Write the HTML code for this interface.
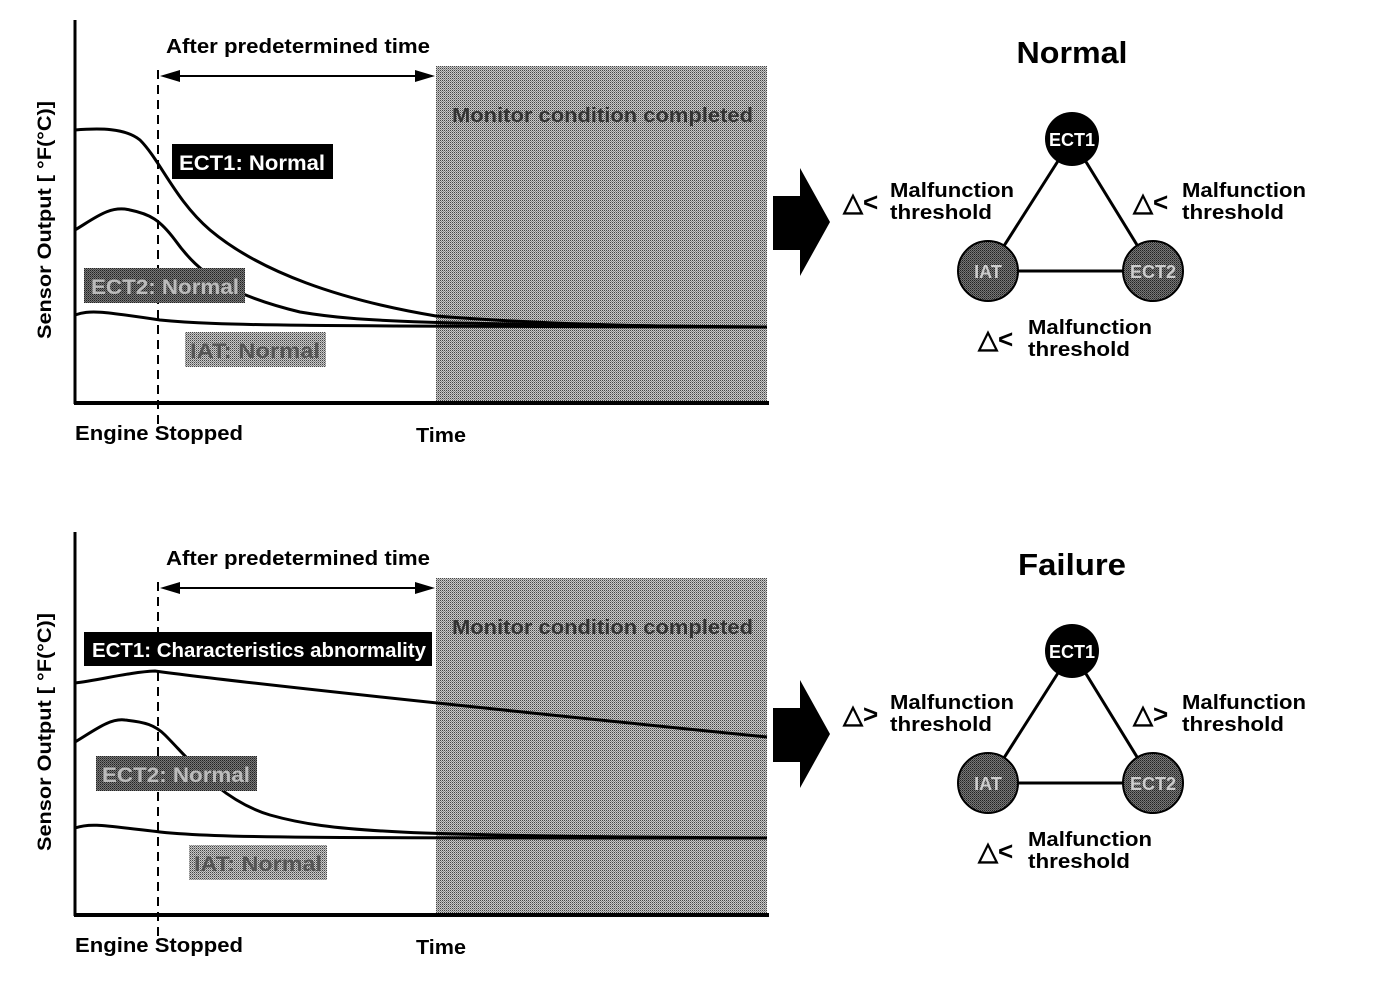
<!DOCTYPE html>
<html><head><meta charset="utf-8"><style>
html,body{margin:0;padding:0;background:#fff;}
svg text{font-family:"Liberation Sans",Arial,sans-serif;font-weight:bold;}
</style></head><body>
<svg width="1392" height="988" viewBox="0 0 1392 988" xmlns="http://www.w3.org/2000/svg">
<defs>
<pattern id="st" width="2" height="2" patternUnits="userSpaceOnUse"><rect width="2" height="2" fill="#c8c8c8"/><rect width="1" height="1" fill="#444"/><rect x="1" y="1" width="1" height="1" fill="#888"/></pattern>
<pattern id="dk" width="2" height="2" patternUnits="userSpaceOnUse"><rect width="2" height="2" fill="#777"/><rect width="1" height="1" fill="#222"/><rect x="1" y="1" width="1" height="1" fill="#444"/></pattern>
<g id="frame">
  <rect x="436" y="66" width="331" height="335" fill="url(#st)"/>
  <text x="452" y="122" font-size="20" fill="#333" textLength="301" lengthAdjust="spacingAndGlyphs">Monitor condition completed</text>
  <line x1="75" y1="20" x2="75" y2="404" stroke="#000" stroke-width="3"/>
  <line x1="74" y1="403" x2="769" y2="403" stroke="#000" stroke-width="4"/>
  <line x1="158" y1="70" x2="158" y2="430" stroke="#000" stroke-width="2" stroke-dasharray="9,6"/>
  <line x1="172" y1="76" x2="424" y2="76" stroke="#000" stroke-width="2"/>
  <polygon points="160,76 180,70 180,82" fill="#000"/>
  <polygon points="435,76 415,70 415,82" fill="#000"/>
  <text x="166" y="53" font-size="20" textLength="264" lengthAdjust="spacingAndGlyphs">After predetermined time</text>
  <text x="75" y="440" font-size="20" textLength="168" lengthAdjust="spacingAndGlyphs">Engine Stopped</text>
  <text x="416" y="442" font-size="20" textLength="50" lengthAdjust="spacingAndGlyphs">Time</text>
  <text transform="translate(51,220) rotate(-90)" font-size="19" text-anchor="middle" textLength="238" lengthAdjust="spacingAndGlyphs">Sensor Output [ °F(°C)]</text>
  <polygon points="773,196 800,196 800,168 830,222 800,276 800,250 773,250" fill="#000"/>
  <line x1="1072" y1="139" x2="988" y2="271" stroke="#000" stroke-width="3"/>
  <line x1="1072" y1="139" x2="1153" y2="271" stroke="#000" stroke-width="3"/>
  <line x1="988" y1="271" x2="1153" y2="271" stroke="#000" stroke-width="3"/>
  <circle cx="1072" cy="139" r="27" fill="#000"/>
  <circle cx="988" cy="271" r="30" fill="url(#dk)" stroke="#000" stroke-width="2"/>
  <circle cx="1153" cy="271" r="30" fill="url(#dk)" stroke="#000" stroke-width="2"/>
  <text x="1072" y="146" font-size="18" fill="#fff" text-anchor="middle">ECT1</text>
  <text x="988" y="278" font-size="18" fill="#ccc" text-anchor="middle">IAT</text>
  <text x="1153" y="278" font-size="18" fill="#ccc" text-anchor="middle">ECT2</text>
</g>
</defs>

<use href="#frame"/>
<use href="#frame" transform="translate(0,512)"/>

<!-- top panel -->
<path d="M75,130 C100,128 125,128 140,140 C160,160 175,200 210,230 C260,272 340,300 436,316 C550,325 680,327 767,327" fill="none" stroke="#000" stroke-width="3"/>
<path d="M75,230 C95,218 110,205 130,210 C150,214 160,220 175,240 C200,275 230,295 300,312 C360,322 420,324 767,327" fill="none" stroke="#000" stroke-width="3"/>
<path d="M75,315 C90,310 100,311 160,320 C220,326 300,326 767,327" fill="none" stroke="#000" stroke-width="3"/>
<rect x="172" y="144" width="161" height="35" fill="#000"/>
<text x="179" y="170" font-size="21" fill="#fff" textLength="146" lengthAdjust="spacingAndGlyphs">ECT1: Normal</text>
<rect x="84" y="268" width="161" height="35" fill="url(#dk)"/>
<text x="91" y="294" font-size="21" fill="#bbb" textLength="148" lengthAdjust="spacingAndGlyphs">ECT2: Normal</text>
<rect x="185" y="332" width="141" height="35" fill="url(#st)"/>
<text x="190" y="358" font-size="21" fill="#555" textLength="130" lengthAdjust="spacingAndGlyphs">IAT: Normal</text>
<text x="1072" y="63" font-size="31" text-anchor="middle" textLength="111" lengthAdjust="spacingAndGlyphs">Normal</text>
<g font-size="20">
<text x="843" y="211" font-size="26">△&lt;</text><text x="890" y="197" textLength="124" lengthAdjust="spacingAndGlyphs">Malfunction</text><text x="890" y="219" textLength="102" lengthAdjust="spacingAndGlyphs">threshold</text>
<text x="1133" y="211" font-size="26">△&lt;</text><text x="1182" y="197" textLength="124" lengthAdjust="spacingAndGlyphs">Malfunction</text><text x="1182" y="219" textLength="102" lengthAdjust="spacingAndGlyphs">threshold</text>
<text x="978" y="348" font-size="26">△&lt;</text><text x="1028" y="334" textLength="124" lengthAdjust="spacingAndGlyphs">Malfunction</text><text x="1028" y="356" textLength="102" lengthAdjust="spacingAndGlyphs">threshold</text>
</g>

<!-- bottom panel -->
<path d="M75,683 C100,680 130,672 155,671 C250,684 500,710 767,737" fill="none" stroke="#000" stroke-width="3"/>
<path d="M75,742 C95,730 110,718 125,720 C145,722 155,725 165,735 C190,760 220,800 270,815 C330,832 400,836 767,838" fill="none" stroke="#000" stroke-width="3"/>
<path d="M75,828 C90,823 100,825 160,832 C220,838 300,838 767,838" fill="none" stroke="#000" stroke-width="3"/>
<rect x="84" y="632" width="348" height="34" fill="#000"/>
<text x="92" y="657" font-size="20" fill="#fff" textLength="334" lengthAdjust="spacingAndGlyphs">ECT1: Characteristics abnormality</text>
<rect x="96" y="756" width="161" height="35" fill="url(#dk)"/>
<text x="102" y="782" font-size="21" fill="#bbb" textLength="148" lengthAdjust="spacingAndGlyphs">ECT2: Normal</text>
<rect x="189" y="845" width="138" height="35" fill="url(#st)"/>
<text x="194" y="871" font-size="21" fill="#555" textLength="128" lengthAdjust="spacingAndGlyphs">IAT: Normal</text>
<text x="1072" y="575" font-size="31" text-anchor="middle" textLength="108" lengthAdjust="spacingAndGlyphs">Failure</text>
<g font-size="20">
<text x="843" y="723" font-size="26">△&gt;</text><text x="890" y="709" textLength="124" lengthAdjust="spacingAndGlyphs">Malfunction</text><text x="890" y="731" textLength="102" lengthAdjust="spacingAndGlyphs">threshold</text>
<text x="1133" y="723" font-size="26">△&gt;</text><text x="1182" y="709" textLength="124" lengthAdjust="spacingAndGlyphs">Malfunction</text><text x="1182" y="731" textLength="102" lengthAdjust="spacingAndGlyphs">threshold</text>
<text x="978" y="860" font-size="26">△&lt;</text><text x="1028" y="846" textLength="124" lengthAdjust="spacingAndGlyphs">Malfunction</text><text x="1028" y="868" textLength="102" lengthAdjust="spacingAndGlyphs">threshold</text>
</g>
</svg>
</body></html>
